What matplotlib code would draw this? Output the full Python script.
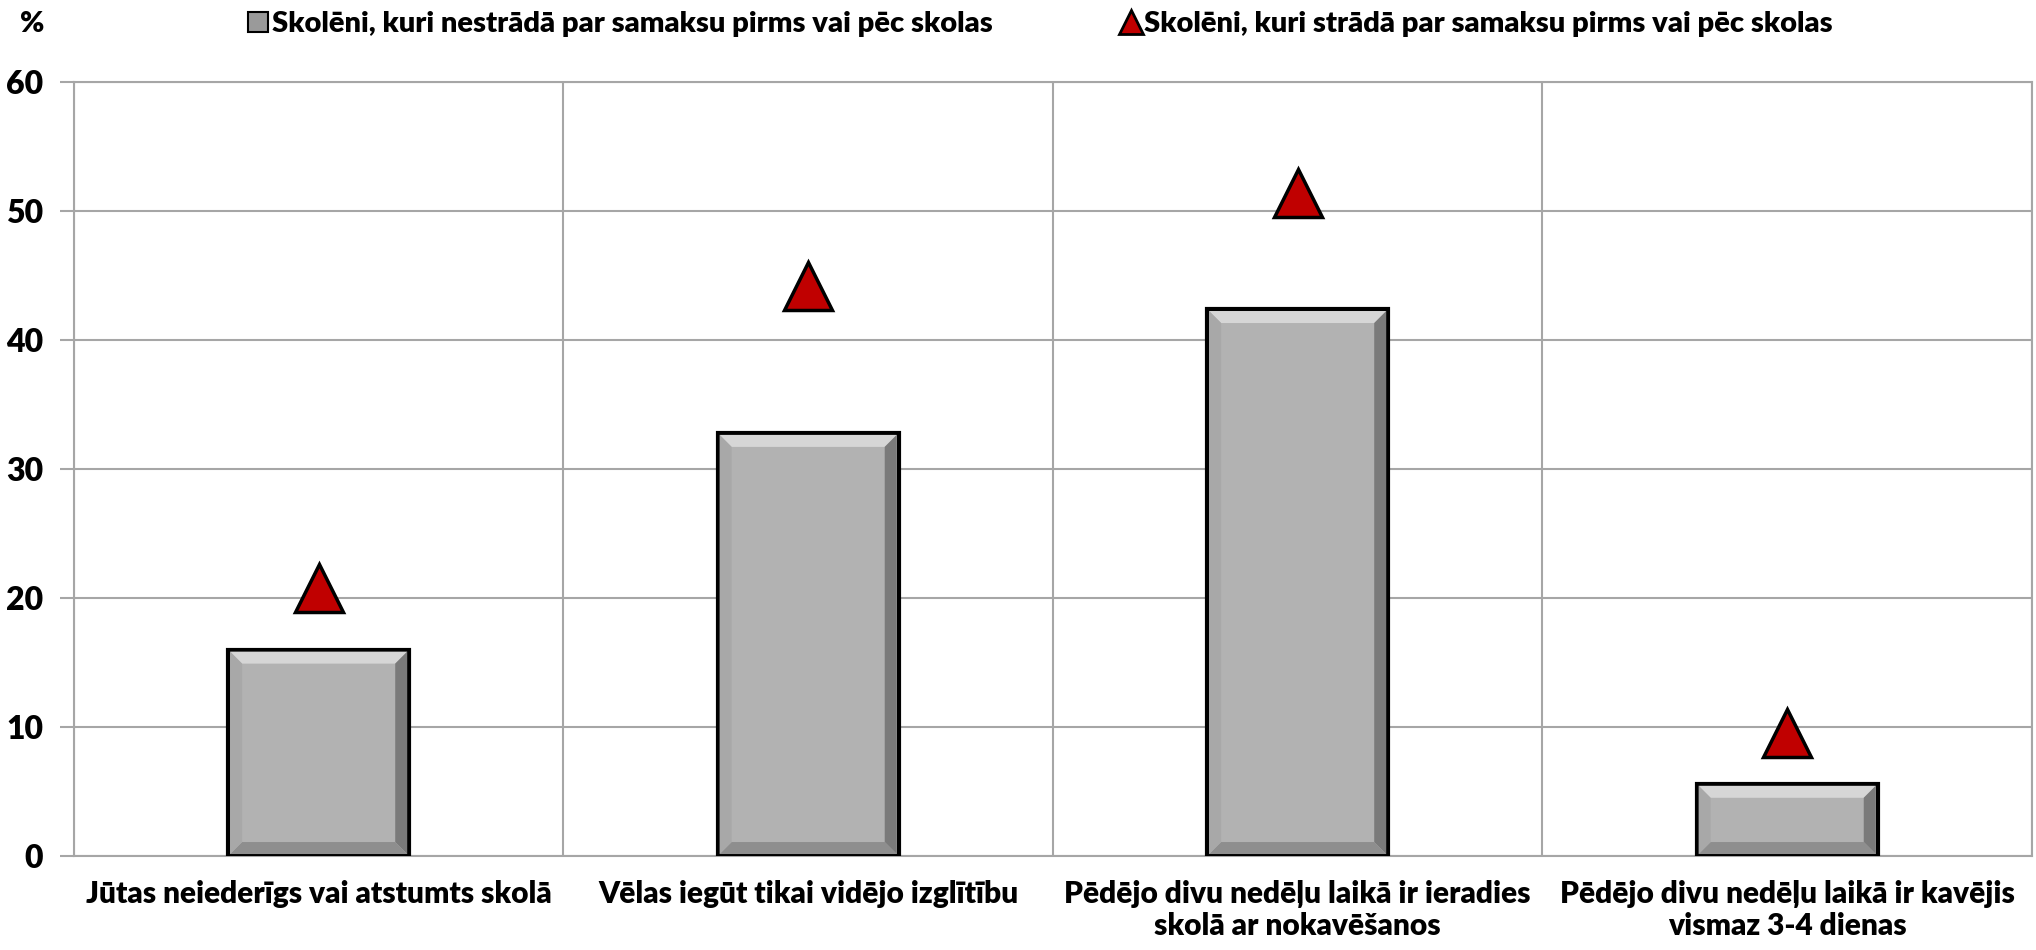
import numpy as np
import matplotlib.pyplot as plt
from matplotlib.patches import Polygon
from matplotlib.lines import Line2D

# Kategorijas un vērtības (%)
categories = [
    "Jūtas neiederīgs vai atstumts skolā",
    "Vēlas iegūt tikai vidējo izglītību",
    "Pēdējo divu nedēļu laikā ir ieradies\nskolā ar nokavēšanos",
    "Pēdējo divu nedēļu laikā ir kavējis\nvismaz 3-4 dienas",
]
not_working = [16.0, 32.8, 42.4, 5.6]
working = [20.8, 44.2, 51.4, 9.5]
series_names = [
    "Skolēni, kuri nestrādā par samaksu pirms vai pēc skolas",
    "Skolēni, kuri strādā par samaksu pirms vai pēc skolas",
]
y_ticks = [0, 10, 20, 30, 40, 50, 60]

plt.rcParams['font.family'] = ['Lato', 'DejaVu Sans']
plt.rcParams['font.weight'] = 'heavy'

fig = plt.figure(figsize=(20.36, 9.50), dpi=100)
ax = fig.add_axes([0.0363, 0.0989, 0.9617, 0.8148])

x = np.arange(len(categories))
bars = ax.bar(x, not_working, width=0.37, color='#B2B2B2', edgecolor='black',
              linewidth=3, zorder=3)
ax.plot(x, working, linestyle='none', marker='^', markersize=34,
        markerfacecolor='#C00000', markeredgecolor='black', markeredgewidth=2.5,
        zorder=5)

ax.set_xlim(-0.5, len(categories) - 0.5)
ax.set_ylim(0, 60)
ax.set_yticks(y_ticks)
ax.set_xticks(x)
ax.set_xticklabels(categories, fontsize=21.5, fontweight='heavy')
ax.tick_params(axis='x', length=0, pad=17)
ax.tick_params(axis='y', length=10, color='#A6A6A6', width=1.5, pad=12,
               labelsize=23)
ax.set_xticks(np.arange(len(categories) + 1) - 0.5, minor=True)
ax.tick_params(axis='x', which='minor', length=0)
ax.grid(axis='y', color='#A6A6A6', linewidth=1.5, zorder=0)
ax.grid(axis='x', which='minor', color='#A6A6A6', linewidth=1.5, zorder=0)
ax.grid(axis='x', which='major', visible=False)
for s in ax.spines.values():
    s.set_color('#A6A6A6')
    s.set_linewidth(1.5)

# Slīpētās malas stabiņiem (efekts)
fig.canvas.draw()
bev = 12
for b in bars:
    (x0, y0), (x1, y1) = ax.transData.transform(
        [(b.get_x(), 0), (b.get_x() + b.get_width(), b.get_height())])
    x0 += 2; x1 -= 2; y0 += 2; y1 -= 2
    sides = [
        ([(x0, y1), (x1, y1), (x1 - bev, y1 - bev), (x0 + bev, y1 - bev)], '#D6D6D6'),
        ([(x1, y1), (x1, y0), (x1 - bev, y0 + bev), (x1 - bev, y1 - bev)], '#7A7A7A'),
        ([(x0, y0), (x1, y0), (x1 - bev, y0 + bev), (x0 + bev, y0 + bev)], '#8E8E8E'),
        ([(x0, y0), (x0, y1), (x0 + bev, y1 - bev), (x0 + bev, y0 + bev)], '#A8A8A8'),
    ]
    for pts, c in sides:
        ax.add_patch(Polygon(pts, closed=True, facecolor=c, edgecolor='none',
                             transform=None, zorder=4))

handles = [
    Line2D([], [], linestyle='none', marker='s', markersize=15,
           markerfacecolor='#9A9A9A', markeredgecolor='black', markeredgewidth=1.5),
    Line2D([], [], linestyle='none', marker='^', markersize=17,
           markerfacecolor='#C00000', markeredgecolor='black', markeredgewidth=2),
]
fig.legend(handles, series_names, loc='center', bbox_to_anchor=(0.511, 0.975),
           ncol=2, frameon=False, handletextpad=0.1,
           columnspacing=4.4, handlelength=0.7,
           prop={'weight': 'heavy', 'size': 21})
fig.text(0.010, 0.975, '%', fontsize=21, fontweight='heavy', va='center')

fig.savefig('out.png', dpi=100)
